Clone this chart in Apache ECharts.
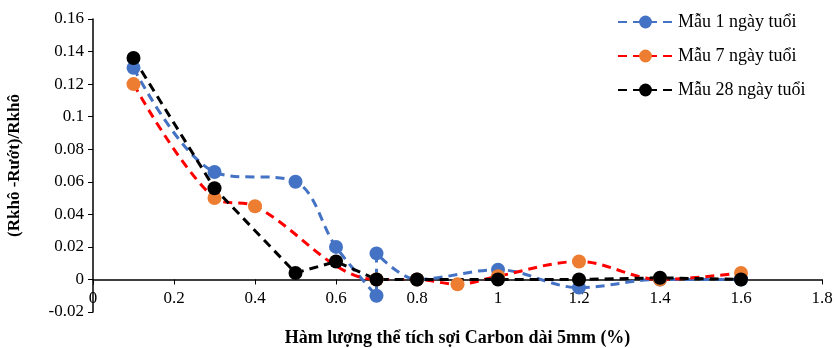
<!DOCTYPE html>
<html>
<head>
<meta charset="utf-8">
<script src="https://cdn.jsdelivr.net/npm/echarts@6/dist/echarts.min.js"></script>
<style>
  html, body { margin: 0; padding: 0; background: #fff; }
  #chart { width: 837px; height: 348px; }
</style>
</head>
<body>
<div id="chart"></div>
<script>
// Hàm lượng (%) và (Rkhô - Rướt)/Rkhô
const x1 = [0.1, 0.3, 0.5, 0.6, 0.7, 0.7, 0.8, 1.0, 1.2, 1.4, 1.6];
const y1 = [0.130, 0.066, 0.060, 0.020, -0.010, 0.016, 0.000, 0.006, -0.005, 0.000, 0.000];

const x7 = [0.1, 0.3, 0.4, 0.7, 0.8, 0.9, 1.0, 1.2, 1.4, 1.6];
const y7 = [0.120, 0.050, 0.045, 0.000, 0.000, -0.003, 0.002, 0.011, 0.000, 0.004];

const x28 = [0.1, 0.3, 0.5, 0.6, 0.7, 0.8, 1.0, 1.2, 1.4, 1.6];
const y28 = [0.136, 0.056, 0.004, 0.011, 0.000, 0.000, 0.000, 0.000, 0.001, 0.000];

const seriesNames = ['Mẫu 1 ngày tuổi', 'Mẫu 7 ngày tuổi', 'Mẫu 28 ngày tuổi'];

const pairs = (xs, ys) => xs.map((x, i) => [x, ys[i]]);
const font = '"Liberation Serif", "Times New Roman", serif';

const chart = echarts.init(document.getElementById('chart'));

const makeSeries = (name, data, lineColor, dotColor, smooth) => ({
  name: name,
  type: 'line',
  data: data,
  smooth: smooth,
  symbol: 'circle',
  symbolSize: 14,
  itemStyle: { color: dotColor },
  lineStyle: { color: lineColor, width: 3, type: [9, 6] }
});

chart.setOption({
  animation: false,
  textStyle: { fontFamily: font },
  grid: { left: 93, right: 15, top: 19, bottom: 36, containLabel: false, outerBoundsMode: 'none' },
  legend: {
    orient: 'vertical',
    left: 612,
    top: 8,
    itemGap: 16,
    itemWidth: 55,
    itemHeight: 16,
    textStyle: { fontFamily: font, fontSize: 18, color: '#000' },
    data: seriesNames
  },
  xAxis: {
    type: 'value',
    min: 0,
    max: 1.8,
    interval: 0.2,
    name: 'Hàm lượng thể tích sợi Carbon dài 5mm (%)',
    nameLocation: 'middle',
    nameGap: 17,
    nameMoveOverlap: false,
    nameTextStyle: { fontFamily: font, fontSize: 18, fontWeight: 'bold', color: '#000' },
    axisLine: { onZero: true, lineStyle: { color: '#000', width: 1.5 } },
    axisTick: { show: true, length: 5, lineStyle: { color: '#000' } },
    axisLabel: {
      fontFamily: font, fontSize: 17, color: '#000', margin: -22,
      formatter: v => String(+v.toFixed(1))
    },
    splitLine: { show: false }
  },
  yAxis: {
    type: 'value',
    min: -0.02,
    max: 0.16,
    interval: 0.02,
    name: '(Rkhô -Rướt)/Rkhô',
    nameLocation: 'middle',
    nameGap: 70,
    nameTextStyle: { fontFamily: font, fontSize: 17, fontWeight: 'bold', color: '#000' },
    axisLine: { show: true, lineStyle: { color: '#000', width: 1.5 } },
    axisTick: { show: true, length: 5, lineStyle: { color: '#000' } },
    axisLabel: {
      fontFamily: font, fontSize: 17, color: '#000', margin: 9,
      formatter: v => String(+v.toFixed(2))
    },
    splitLine: { show: false }
  },
  series: [
    makeSeries(seriesNames[0], pairs(x1, y1), '#4472C4', '#4472C4', 0.35),
    makeSeries(seriesNames[1], pairs(x7, y7), '#FF0000', '#ED7D31', 0.35),
    makeSeries(seriesNames[2], pairs(x28, y28), '#000000', '#000000', false)
  ]
});
</script>
</body>
</html>
